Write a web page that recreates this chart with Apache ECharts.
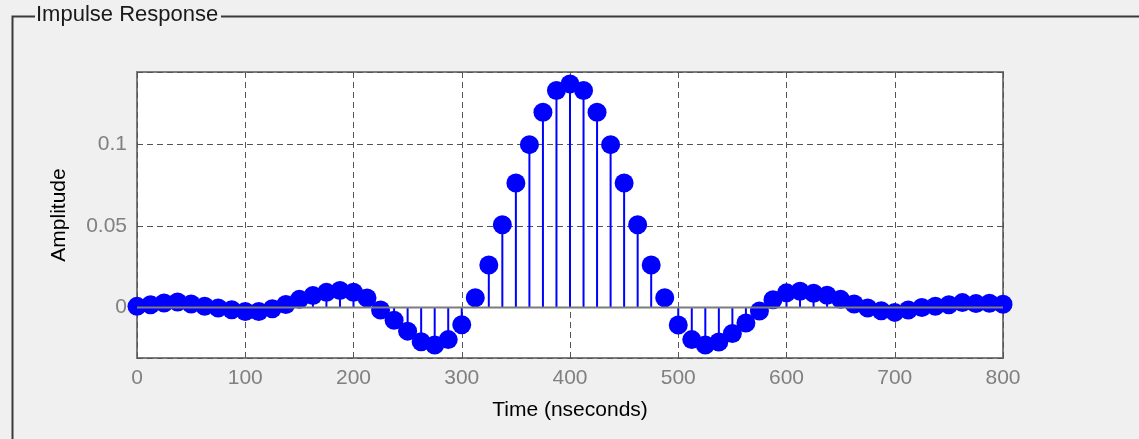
<!DOCTYPE html>
<html>
<head>
<meta charset="utf-8">
<title>Impulse Response</title>
<script src="https://cdn.jsdelivr.net/npm/echarts@6/dist/echarts.min.js"></script>
<style>
  html, body { margin: 0; padding: 0; background: #f0f0f0; }
  #impulse { width: 1139px; height: 439px; }
</style>
</head>
<body>
<div id="impulse"></div>
<script>
  // sample instants (nseconds)
  var timeNs = [
    0, 12.5, 25, 37.5, 50, 62.5, 75, 87.5, 100, 112.5, 125, 137.5, 150, 162.5, 175, 187.5,
    200, 212.5, 225, 237.5, 250, 262.5, 275, 287.5, 300, 312.5, 325, 337.5, 350, 362.5, 375, 387.5,
    400, 412.5, 425, 437.5, 450, 462.5, 475, 487.5, 500, 512.5, 525, 537.5, 550, 562.5, 575, 587.5,
    600, 612.5, 625, 637.5, 650, 662.5, 675, 687.5, 700, 712.5, 725, 737.5, 750, 762.5, 775, 787.5,
    800
  ];
  // amplitude of each sample
  var amplitude = [
    0.0007, 0.0017, 0.0028, 0.0034, 0.0022, 0.0008, -0.0003, -0.0014, -0.0024, -0.0025, -0.0008, 0.0018, 0.0050, 0.0073, 0.0093, 0.0104,
    0.0094, 0.0058, -0.0015, -0.0078, -0.0145, -0.0210, -0.0230, -0.0197, -0.0106, 0.0060, 0.0261, 0.0508, 0.0764, 0.1000, 0.1199, 0.1332,
    0.1373, 0.1332, 0.1199, 0.1000, 0.0764, 0.0508, 0.0261, 0.0060, -0.0107, -0.0197, -0.0230, -0.0212, -0.0160, -0.0095, -0.0022, 0.0048,
    0.0090, 0.0100, 0.0088, 0.0075, 0.0050, 0.0022, -0.0003, -0.0020, -0.0030, -0.0015, 0.0000, 0.0008, 0.0017, 0.0030, 0.0024, 0.0026,
    0.0020
  ];
  // axis ranges / ticks
  var xRange = [0, 800];
  var xStep = 100;
  var yRange = [-0.031, 0.1446];

  var font = '"Liberation Sans", Arial, sans-serif';
  var points = timeNs.map(function (t, i) { return [t, amplitude[i]]; });

  var chart = echarts.init(document.getElementById('impulse'));

  var option = {
    backgroundColor: '#f0f0f0',
    animation: false,
    // group box frame + title
    graphic: [
      {
        type: 'polyline',
        shape: { points: [[35, 16.5], [12.5, 16.5], [12.5, 445]] },
        style: { stroke: '#3a3a3a', lineWidth: 2, fill: null }
      },
      {
        type: 'line',
        shape: { x1: 221, y1: 16.5, x2: 1145, y2: 16.5 },
        style: { stroke: '#3a3a3a', lineWidth: 2 }
      },
      {
        type: 'text',
        left: 36,
        top: 4,
        style: { text: 'Impulse Response', fill: '#1a1a1a', font: '22px ' + font }
      }
    ],
    grid: {
      left: 137,
      top: 72,
      width: 866,
      height: 286,
      show: true,
      backgroundColor: '#ffffff',
      borderColor: '#7c7c7c',
      borderWidth: 2
    },
    xAxis: {
      type: 'value',
      min: xRange[0],
      max: xRange[1],
      interval: xStep,
      name: 'Time (nseconds)',
      nameLocation: 'middle',
      nameGap: 42,
      nameTextStyle: { color: '#000', fontSize: 21, fontFamily: font },
      axisLine: { show: false },
      axisTick: { show: false },
      axisLabel: { color: '#808080', fontSize: 21, fontFamily: font, margin: 10 },
      splitLine: { show: true, lineStyle: { color: '#555', type: [6, 4], width: 1 } }
    },
    yAxis: {
      type: 'value',
      min: yRange[0],
      max: yRange[1],
      splitNumber: 4,
      name: 'Amplitude',
      nameLocation: 'middle',
      nameGap: 67,
      nameTextStyle: { color: '#000', fontSize: 21, fontFamily: font },
      axisLine: { show: false },
      axisTick: { show: false },
      axisLabel: {
        color: '#808080', fontSize: 21, fontFamily: font, margin: 10,
        showMinLabel: false, showMaxLabel: false
      },
      splitLine: { show: true, lineStyle: { color: '#555', type: [6, 4], width: 1 } }
    },
    series: [
      // stems
      {
        type: 'custom',
        data: points,
        clip: true,
        z: 2,
        renderItem: function (params, api) {
          var base = api.coord([api.value(0), 0]);
          var top = api.coord([api.value(0), api.value(1)]);
          return {
            type: 'line',
            shape: { x1: base[0], y1: base[1], x2: top[0], y2: top[1] },
            style: { stroke: '#0000ff', lineWidth: 2 }
          };
        }
      },
      // markers
      {
        type: 'scatter',
        data: points,
        symbol: 'circle',
        symbolSize: 19,
        itemStyle: { color: '#0000ff', opacity: 1 },
        z: 3
      },
      // baseline
      {
        type: 'line',
        data: [[xRange[0], 0], [xRange[1], 0]],
        symbol: 'none',
        lineStyle: { color: '#7c7c7c', width: 2 },
        z: 4
      }
    ]
  };

  chart.setOption(option);
</script>
</body>
</html>
